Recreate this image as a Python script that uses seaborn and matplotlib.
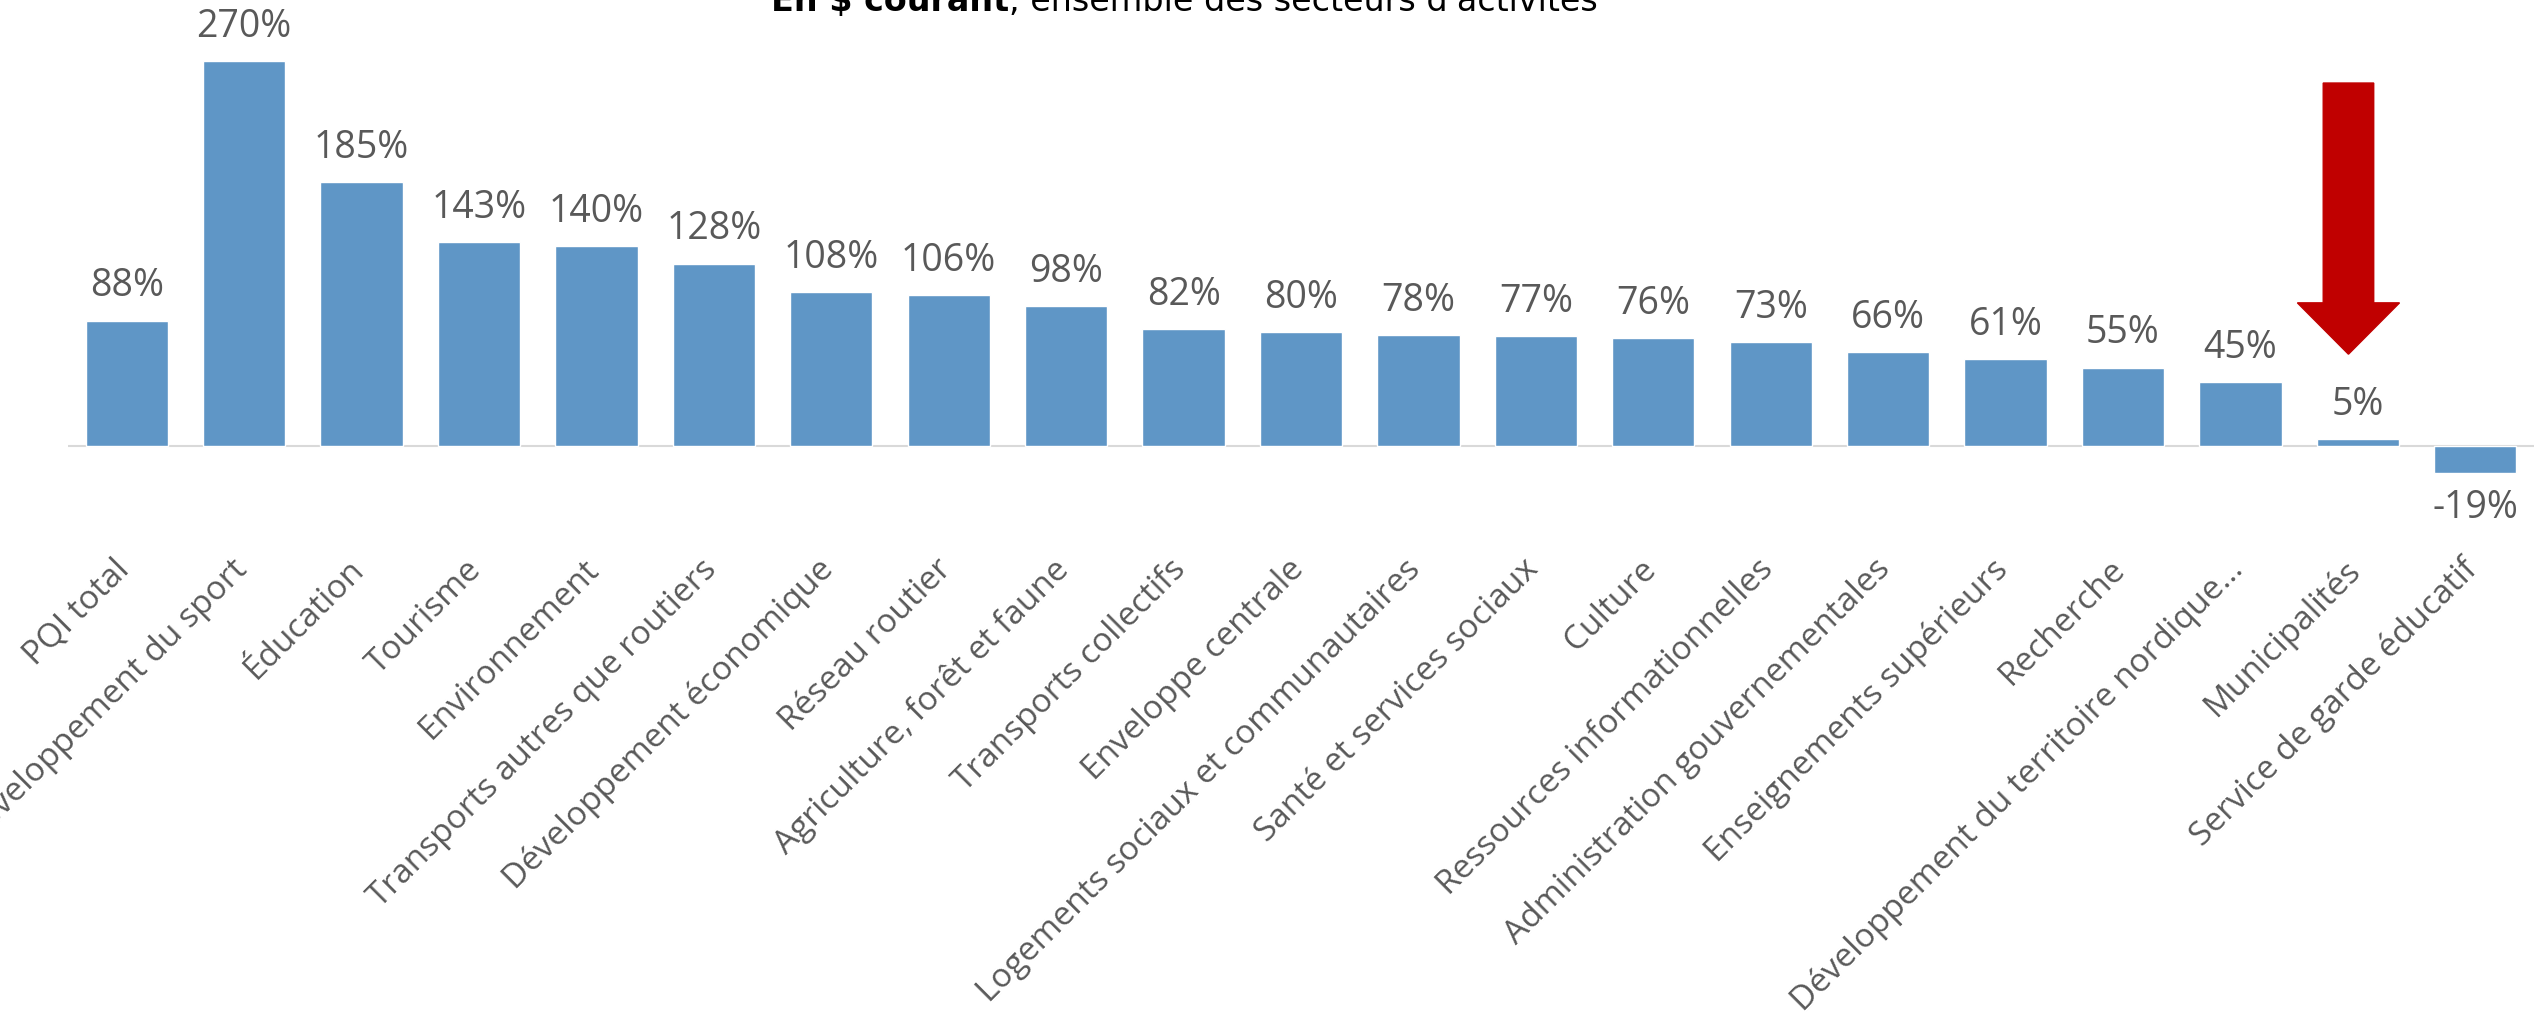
import matplotlib
matplotlib.use("Agg")
import matplotlib.pyplot as plt
import matplotlib.transforms as mtransforms
import seaborn as sns
import pandas as pd

# ---------------------------------------------------------------------
# DATA
# ---------------------------------------------------------------------
categories = [
    "PQI total", "Développement du sport", "Éducation", "Tourisme",
    "Environnement", "Transports autres que routiers",
    "Développement économique", "Réseau routier",
    "Agriculture, forêt et faune", "Transports collectifs",
    "Enveloppe centrale", "Logements sociaux et communautaires",
    "Santé et services sociaux", "Culture", "Ressources informationnelles",
    "Administration gouvernementales", "Enseignements supérieurs",
    "Recherche", "Développement du territoire nordique…", "Municipalités",
    "Service de garde éducatif",
]
growth = [88, 270, 185, 143, 140, 128, 108, 106, 98, 82, 80, 78, 77, 76,
          73, 66, 61, 55, 45, 5, -19]

title_bold = "En \\$ courant"
title_rest = ", ensemble des secteurs d'activités"
highlight = "Municipalités"

BAR_COLOR = "#5F96C6"
TEXT_COLOR = "#595959"
ARROW_COLOR = "#C00000"

df = pd.DataFrame({"secteur": categories, "croissance": growth})

# ---------------------------------------------------------------------
# PLOT
# ---------------------------------------------------------------------
sns.set_style("white")
plt.rcParams["font.family"] = ["Open Sans", "DejaVu Sans"]

W, H = 2534, 1018
fig = plt.figure(figsize=(W / 100, H / 100), dpi=100)
ax = fig.add_axes([68 / W, 1 - 489 / H, 1 - 68 / W, 489 / H])

sns.barplot(data=df, x="secteur", y="croissance", color=BAR_COLOR,
            width=0.7, saturation=1, ax=ax)
ax.set_ylim(-30, 312.8)
ax.set_xlim(-0.5, len(categories) - 0.5)

ax.axhline(0, color="#D9D9D9", linewidth=1.5, zorder=0)
sns.despine(ax=ax, left=True, bottom=True)
ax.set_yticks([])
ax.set_xlabel("")
ax.set_ylabel("")
ax.tick_params(axis="x", length=0, pad=0)

labels = ax.bar_label(ax.containers[0], labels=[f"{v}%" for v in growth],
                      padding=11, fontsize=27, color=TEXT_COLOR)
# the negative label sits a bit closer to its bar
for lab, v in zip(labels, growth):
    if v < 0:
        lab.set_transform(lab.get_transform() + mtransforms.ScaledTranslation(
            0, 0.05, fig.dpi_scale_trans))

ax.set_xticks(range(len(categories)))
ax.set_xticklabels(categories, rotation=45, ha="right",
                   rotation_mode="anchor", fontsize=24, color=TEXT_COLOR)
offset = mtransforms.ScaledTranslation(-0.14, -0.64, fig.dpi_scale_trans)
for lab in ax.get_xticklabels():
    lab.set_transform(lab.get_transform() + offset)

# red arrow pointing at Municipalités
xi = categories.index(highlight) - 0.08
ax.arrow(xi, 254.6, 0, 64.5 - 254.6, width=0.43, head_width=0.87,
         head_length=36, length_includes_head=True, color=ARROW_COLOR,
         zorder=5)

# title, partly cut by the top edge like the source
t1 = fig.text(771 / W, 1 - 11 / H, title_bold, fontsize=24,
              fontweight="bold", family="DejaVu Sans", va="baseline",
              color="black")
fig.canvas.draw()
bb = t1.get_window_extent()
fig.text(bb.x1 / W, 1 - 11 / H, title_rest, fontsize=24,
         family="DejaVu Sans", va="baseline", color="black")

plt.savefig("out.png", dpi=100)
plt.close()
